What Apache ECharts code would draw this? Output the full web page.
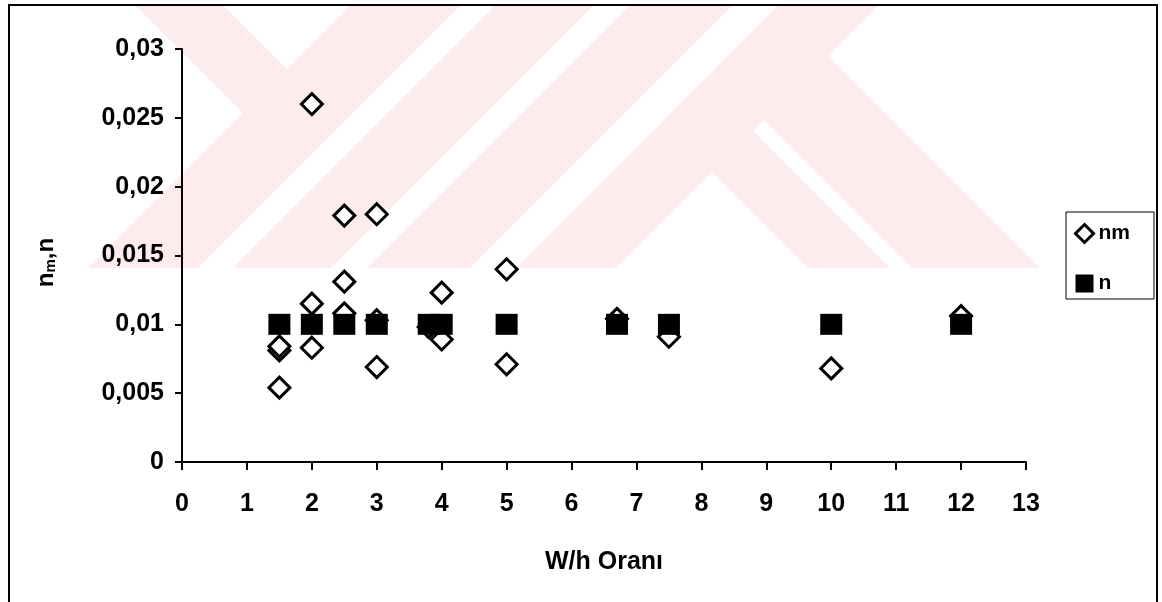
<!DOCTYPE html>
<html>
<head>
<meta charset="utf-8">
<script src="https://cdn.jsdelivr.net/npm/echarts@6/dist/echarts.min.js"></script>
<style>
html,body{margin:0;padding:0;background:#fff;}
#c{width:1162px;height:602px;}
</style>
</head>
<body>
<div id="c"></div>
<script>
// ---- data ----
var nmX = [1.5, 1.5, 1.5, 2, 2, 2, 2.5, 2.5, 2.5, 3, 3, 3, 3.8, 4, 4, 5, 5, 6.7, 7.5, 10, 12];
var nmY = [0.0054, 0.0081, 0.0084, 0.026, 0.0115, 0.0083, 0.0179, 0.0131, 0.0108, 0.018, 0.0103, 0.0069, 0.0098, 0.0123, 0.0089, 0.014, 0.0071, 0.0104, 0.0091, 0.0068, 0.0106];
var nX = [1.5, 2, 2.5, 3, 3.8, 4, 5, 6.7, 7.5, 10, 12];
var nY = [0.01, 0.01, 0.01, 0.01, 0.01, 0.01, 0.01, 0.01, 0.01, 0.01, 0.01];
var seriesNames = ['nm', 'n'];
var xTitle = 'W/h Oranı';

var FONT = '"Liberation Sans", Arial, sans-serif';
var PINK = '#fdebee';

function pairs(xs, ys) { return xs.map(function (x, i) { return [x, ys[i]]; }); }

// faint watermark (background decoration)
function poly(pts) {
  return { type: 'polygon', z: -10, silent: true, shape: { points: pts }, style: { fill: PINK } };
}
var watermark = [
  poly([[135,5],[223,5],[309,91],[265,135]]),
  poly([[88,268],[198,268],[461,5],[351,5]]),
  poly([[233,268],[331,268],[594,5],[496,5]]),
  poly([[367,268],[470,268],[733,5],[630,5]]),
  poly([[516,268],[616,268],[879,5],[779,5]]),
  poly([[808,268],[890,268],[703,81],[662,122]]),
  poly([[912,268],[1040,268],[778,6],[714,70]])
];

var chart = echarts.init(document.getElementById('c'), null, { renderer: 'canvas' });
chart.setOption({
  animation: false,
  backgroundColor: '#fff',
  graphic: watermark.concat([
    { type: 'rect', z: -5, silent: true, shape: { x: 9, y: 5, width: 1148, height: 620 },
      style: { fill: 'none', stroke: '#000', lineWidth: 2 } },
    { type: 'rect', z: 5, silent: true, shape: { x: 1066, y: 212, width: 88, height: 87 },
      style: { fill: '#fff', stroke: '#000', lineWidth: 1 } }
  ]),
  grid: { left: 182, right: 136, top: 49, bottom: 140, containLabel: false },
  legend: {
    orient: 'vertical', left: 1074, top: 223, padding: 0, z: 10,
    itemGap: 29, itemWidth: 18, itemHeight: 18,
    textStyle: { fontFamily: FONT, fontWeight: 'bold', fontSize: 21, color: '#000', lineHeight: 20 },
    data: [
      { name: seriesNames[0], icon: 'diamond', itemStyle: { color: '#fff', borderColor: '#000', borderWidth: 3 } },
      { name: seriesNames[1], icon: 'rect', itemStyle: { color: '#000', borderWidth: 0 } }
    ]
  },
  xAxis: {
    type: 'value', min: 0, max: 13, interval: 1,
    name: xTitle, nameLocation: 'middle', nameGap: 88,
    nameTextStyle: { fontFamily: FONT, fontWeight: 'bold', fontSize: 25, color: '#000' },
    axisLine: { show: true, onZero: false, lineStyle: { color: '#000', width: 2 } },
    axisTick: { show: true, inside: false, length: 8, lineStyle: { color: '#000', width: 2 } },
    axisLabel: { margin: 30, fontFamily: FONT, fontWeight: 'bold', fontSize: 25, color: '#000' },
    splitLine: { show: false }
  },
  yAxis: {
    type: 'value', min: 0, max: 0.03, interval: 0.005,
    name: '{m|n}{s|m}{m|,n}', nameLocation: 'middle', nameGap: 124, nameRotate: 90,
    nameTextStyle: {
      color: '#000', padding: [0, 14, 0, 0],
      rich: {
        m: { fontFamily: FONT, fontWeight: 'bold', fontSize: 24, color: '#000' },
        s: { fontFamily: FONT, fontWeight: 'bold', fontSize: 15, color: '#000', padding: [9, 0, 0, 0] }
      }
    },
    axisLine: { show: true, onZero: false, lineStyle: { color: '#000', width: 2 } },
    axisTick: { show: true, inside: false, length: 7, lineStyle: { color: '#000', width: 2 } },
    axisLabel: {
      margin: 18, fontFamily: FONT, fontWeight: 'bold', fontSize: 25, color: '#000',
      formatter: function (v) { return v === 0 ? '0' : String(parseFloat(v.toFixed(3))).replace('.', ','); }
    },
    splitLine: { show: false }
  },
  series: [
    {
      name: seriesNames[0], type: 'scatter', symbol: 'diamond', symbolSize: 21,
      itemStyle: { color: '#fff', borderColor: '#000', borderWidth: 3, opacity: 1 },
      emphasis: { disabled: true },
      data: pairs(nmX, nmY)
    },
    {
      name: seriesNames[1], type: 'scatter', symbol: 'rect', symbolSize: [22, 21],
      itemStyle: { color: '#000', opacity: 1 },
      emphasis: { disabled: true },
      data: pairs(nX, nY)
    }
  ]
});
</script>
</body>
</html>
